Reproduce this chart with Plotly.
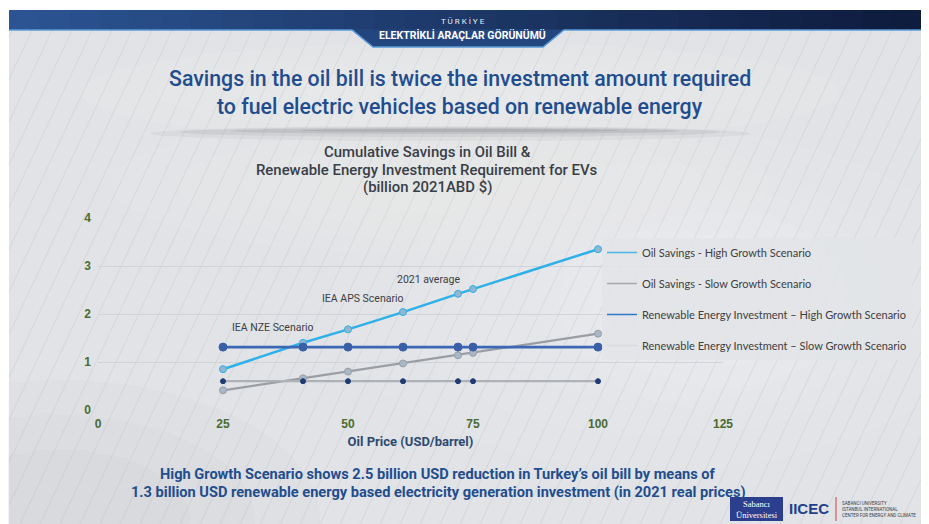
import plotly.graph_objects as go

# ---------------- data ----------------
oil_price = [25, 41, 50, 61, 72, 75, 100]
oil_savings_high = [0.85, 1.40, 1.68, 2.04, 2.42, 2.52, 3.35]
oil_savings_slow = [0.41, 0.66, 0.80, 0.97, 1.14, 1.19, 1.59]
renew_inv_high = [1.31, 1.31, 1.31, 1.31, 1.31, 1.31, 1.31]
renew_inv_slow = [0.60, 0.60, 0.60, 0.60, 0.60, 0.60, 0.60]

series_names = [
    "Oil Savings - High Growth Scenario",
    "Oil Savings - Slow Growth Scenario",
    "Renewable Energy Investment \u2013 High Growth Scenario",
    "Renewable Energy Investment \u2013 Slow Growth Scenario",
]
x_ticks = [0, 25, 50, 75, 100, 125]
y_ticks = [0, 1, 2, 3, 4]
scenario_labels = ["IEA NZE Scenario", "IEA APS Scenario", "2021 average"]
scenario_label_x = [35, 53, 66]
scenario_label_y = [1.71, 2.32, 2.72]

OFF = 8                       # page offset of the figure div (body margin)
W, H = 929 - OFF, 524 - OFF
L, R, T, B = 98, 723, 218, 410   # plot area in page pixels


def px(x):
    return (x - L) / (R - L)


def py(y):
    return (B - y) / (B - T)


fig = go.Figure()

series = [oil_savings_high, oil_savings_slow, renew_inv_high, renew_inv_slow]
line_colors = ["#2fb0e8", "#9a9ea4", "#3a68b4", "#aeb2b7"]
line_widths = [2.5, 2.2, 2.6, 2.2]
marker_colors = ["#93b6d0", "#a9b8c9", "#3b5fa6", "#1f3a74"]
marker_sizes = [7, 7, 8, 5]
legend_colors = ["#4ab6e8", "#a8a8a8", "#2e78c8", "#d9dadc"]

for i, ys in enumerate(series):
    fig.add_trace(go.Scatter(
        x=oil_price, y=ys, mode="lines", name=series_names[i],
        line=dict(color=line_colors[i], width=line_widths[i]),
        legendgroup=f"g{i}", showlegend=False, hoverinfo="skip"))
    fig.add_trace(go.Scatter(
        x=oil_price, y=ys, mode="markers", name=series_names[i],
        marker=dict(color=marker_colors[i], size=marker_sizes[i],
                    line=dict(color=line_colors[i] if i < 2 else marker_colors[i], width=1)),
        legendgroup=f"g{i}", showlegend=False))
for i in range(4):
    fig.add_trace(go.Scatter(
        x=[None], y=[None], mode="lines", name=series_names[i],
        line=dict(color=legend_colors[i], width=1.5),
        legendgroup=f"g{i}", showlegend=True))

shapes = []


def ellipse(cx, cy, rx, ry, color):
    return dict(type="circle", xref="paper", yref="paper", x0=px(cx - rx), x1=px(cx + rx),
                y0=py(cy + ry), y1=py(cy - ry), fillcolor=color, line=dict(width=0), layer="below")


shapes.append(dict(type="rect", xref="paper", yref="paper", x0=px(9), x1=px(923), y0=py(524), y1=py(10),
                   fillcolor="#e1e3e6", line=dict(width=0), layer="below"))
# soft glows (concentric layers)
for (cx, cy, rx, ry, op) in [(660, 300, 330, 170, 0.05), (720, 300, 160, 110, 0.05), (460, 92, 380, 50, 0.07),
                             (440, 185, 330, 70, 0.04)]:
    for s in [1.0, 0.8, 0.6, 0.4]:
        shapes.append(ellipse(cx, cy, rx * s, ry * s, f"rgba(255,255,255,{op})"))
for s in [1.0, 0.75, 0.5]:
    shapes.append(ellipse(60, 520, 260 * s, 140 * s, "rgba(150,155,165,0.04)"))
# shadow under title
for (x0, x1, y0, y1, op) in [(150, 750, 126, 141, 0.05), (180, 720, 127, 137, 0.07), (230, 680, 128, 134, 0.10),
                             (300, 620, 129, 132, 0.12)]:
    shapes.append(ellipse((x0 + x1) / 2, (y0 + y1) / 2, (x1 - x0) / 2, (y1 - y0) / 2, f"rgba(60,62,68,{op})"))
# diagonal hatch
k = 0.47
x_start = -260
while x_start < 930:
    xa, ya = x_start, 524
    xb, yb = x_start + k * (524 - 30), 30
    if xa < 9:
        ya = 524 - (9 - xa) / k
        xa = 9
    if xb > 923:
        yb = 30 + (xb - 923) / k
        xb = 923
    if ya > yb:
        shapes.append(dict(type="line", xref="paper", yref="paper", x0=px(xa), y0=py(ya), x1=px(xb), y1=py(yb),
                           line=dict(color="rgba(160,166,176,0.2)", width=1), layer="below"))
    x_start += 20
# banner gradient
n = 30
c0 = (44, 84, 146)
c1 = (14, 28, 62)
for j in range(n):
    t = j / (n - 1)
    col = tuple(int(c0[m] + (c1[m] - c0[m]) * t) for m in range(3))
    xa = 9 + (923 - 9) * j / n
    xb = 9 + (923 - 9) * (j + 1) / n + 1
    shapes.append(dict(type="rect", xref="paper", yref="paper", x0=px(xa), x1=px(xb), y0=py(30), y1=py(10),
                       fillcolor=f"rgb{col}", line=dict(width=0), layer="below"))


def path_px(points):
    return "M " + " L ".join(f"{px(a):.5f},{py(b):.5f}" for a, b in points)


shapes.append(dict(type="path", xref="paper", yref="paper",
                   path=path_px([(352, 29.5), (373, 47), (543, 47), (564, 29.5)]) + " Z",
                   fillcolor="#24467f", line=dict(width=0), layer="below"))
shapes.append(dict(type="path", xref="paper", yref="paper",
                   path=path_px([(9, 30), (352, 30), (373, 47), (543, 47), (564, 30), (923, 30)]),
                   line=dict(color="#5b9ad8", width=1.5), layer="below"))
shapes.append(dict(type="rect", xref="paper", yref="paper", x0=px(730), x1=px(783), y0=py(521), y1=py(497),
                   fillcolor="#2b3f8e", line=dict(width=0), layer="above"))
shapes.append(dict(type="line", xref="paper", yref="paper", x0=px(836), x1=px(836), y0=py(521), y1=py(497),
                   line=dict(color="#d04040", width=1), layer="above"))

annotations = []
TF = "Roboto"


def note(text, x, y, font, xanchor="center", align="center", xref="paper", yref="paper"):
    if xref == "paper":
        x = px(x)
    if yref == "paper":
        y = py(y)
    annotations.append(dict(text=text, x=x, y=y, xref=xref, yref=yref, showarrow=False,
                            xanchor=xanchor, yanchor="middle", align=align, font=font))


note("T Ü R K İ Y E", 463, 21, dict(family=TF, size=8, color="#e8eef8"))
note("<b>ELEKTRİKLİ ARAÇLAR GÖRÜNÜMÜ</b>", 462, 35, dict(family=TF, size=10.5, color="#ffffff"))
note("Savings in the oil bill is twice the investment amount required", 460, 78,
     dict(family=TF, size=21.3, color="#1f4d8e", weight=500))
note("to fuel electric vehicles based on renewable energy", 460, 106,
     dict(family=TF, size=21.3, color="#1f4d8e", weight=500))
for txt, yy in [("Cumulative Savings in Oil Bill &", 152),
                ("Renewable Energy Investment Requirement for EVs", 170),
                ("(billion 2021ABD $)", 187)]:
    note(txt, 427, yy, dict(family=TF, size=14.9, color="#3a3e46", weight=500))
for txt, yy in [("High Growth Scenario shows 2.5 billion USD reduction in Turkey\u2019s oil bill by means of", 474),
                ("1.3 billion USD renewable energy based electricity generation investment (in 2021 real prices)", 492)]:
    note(txt, 438, yy, dict(family=TF, size=14.6, color="#1f4d8e", weight="bold"))
for txt, xx, yy in zip(scenario_labels, scenario_label_x, scenario_label_y):
    note(txt, xx, yy, dict(family=TF, size=10.5, color="#3b3f46"), xref="x", yref="y")
note("Sabancı<br>Üniversitesi", 756.5, 509, dict(family="Liberation Serif", size=8.5, color="#ffffff"))
note("<b>IICEC</b>", 809, 508, dict(family="Liberation Sans", size=15, color="#22408a"))
note("SABANCI UNIVERSITY<br>ISTANBUL INTERNATIONAL<br>CENTER FOR ENERGY AND CLIMATE", 840, 509,
     dict(family=TF, size=4.5, color="#404040"), xanchor="left", align="left")

fig.update_layout(
    width=W, height=H,
    margin=dict(l=L - OFF, r=W - (R - OFF), t=T - OFF, b=H - (B - OFF), pad=0),
    paper_bgcolor="#ffffff",
    plot_bgcolor="rgba(0,0,0,0)",
    shapes=shapes,
    annotations=annotations,
    showlegend=True,
    legend=dict(x=px(602), y=py(238), xanchor="left", yanchor="top",
                bgcolor="rgba(226,228,231,0.85)", borderwidth=0,
                font=dict(family="Lato", size=11, color="#404040"),
                tracegroupgap=12, itemwidth=30),
    xaxis=dict(range=[0, 125], tickvals=x_ticks, showgrid=False, zeroline=False, showline=False,
               ticklabelstandoff=5,
               tickfont=dict(family="Liberation Sans", size=12, color="#4b6b30", weight="bold"),
               title=dict(text="Oil Price (USD/barrel)", standoff=6,
                          font=dict(family=TF, size=13, color="#2e4a70", weight="bold"))),
    yaxis=dict(range=[0, 4], tickvals=y_ticks, showgrid=True, gridcolor="rgba(205,209,215,0.9)", gridwidth=1,
               zeroline=False, showline=False, ticklabelstandoff=6,
               tickfont=dict(family="Liberation Sans", size=12, color="#4b6b30", weight="bold")),
)

fig.write_html("out.html")
